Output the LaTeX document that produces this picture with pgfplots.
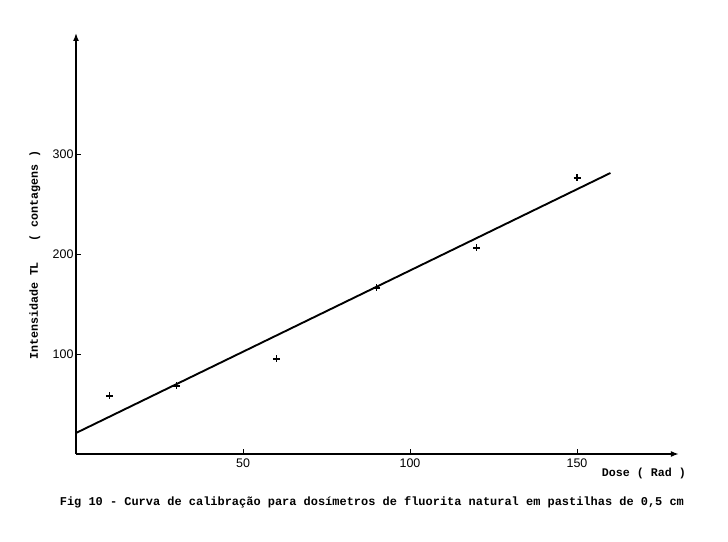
\documentclass[border=0pt]{standalone}
\usepackage{fontspec}
\usepackage{pgfplots}
\pgfplotsset{compat=1.18}
\usetikzlibrary{arrows.meta}
\setmainfont{Liberation Sans}
\newfontfamily\typew{Liberation Mono}
\begin{document}
\begin{tikzpicture}
\useasboundingbox (0,0) rectangle (728bp,542bp);
\begin{axis}[
  at={(76bp,88bp)}, anchor=south west,
  x=3.34bp, y=1bp,
  xmin=0, xmax=180.5, ymin=0, ymax=421,
  axis x line=bottom, axis y line=left,
  axis line style={line width=1.5pt, -{Latex[length=8bp,width=6bp]}},
  enlargelimits=false, clip=false,
  xtick={50,100,150}, ytick={100,200,300},
  tick align=inside, major tick length=5bp,
  tick style={line width=1pt, black},
  every tick label/.append style={font=\fontsize{12.5}{14}\selectfont},
  xticklabel style={yshift=-1bp},
  yticklabel style={xshift=1bp},
  /pgf/number format/assume math mode=true,
]
\addplot[only marks, mark=+, mark size=3.5bp, mark options={line width=1.3pt}] coordinates {
  (10,58) (30,68) (60,95) (90,166) (120,206) (150,276)
};
\addplot[line width=1.9pt, no marks] coordinates {(0,21) (160,281)};
\node[rotate=90, font=\typew\bfseries\fontsize{11.7}{13}\selectfont] at (axis cs:-12.3,199) {Intensidade TL\ \ \ ( contagens )};
\node[font=\typew\bfseries\fontsize{11.7}{13}\selectfont] at (axis cs:170,-19) {Dose ( Rad )};
\node[font=\typew\bfseries\fontsize{12}{13}\selectfont] at (axis cs:88.6,-48) {Fig 10 - Curva de calibração para dosímetros de fluorita natural em pastilhas de 0,5 cm};
\end{axis}
\end{tikzpicture}
\end{document}
